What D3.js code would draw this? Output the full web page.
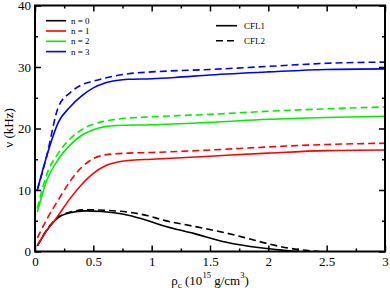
<!DOCTYPE html>
<html>
<head>
<meta charset="utf-8">
<script src="https://cdn.jsdelivr.net/npm/d3@7"></script>
<style>
	body { margin: 0; background: #fff; }
	svg { display: block; font-family: "Liberation Serif", "Times New Roman", serif; }
</style>
</head>
<body>
<div id="root"></div>
<script>
const W = 390,
	H = 292,
	M = { top: 5.5, right: 5, bottom: 40.5, left: 35 }

// series: [rho_c, nu]
const n0_cfl1 = [[0.02, 0.9], [0.1, 3.4], [0.2, 5.5], [0.3, 6.3], [0.43, 6.6], [0.57, 6.5], [0.8, 5.9], [0.97, 5.0], [1.1, 4.2], [1.36, 2.95], [1.64, 1.5], [1.93, 0.6], [2.13, 0.2], [2.25, 0.0]]
const n0_cfl2 = [[0.02, 0.9], [0.1, 3.5], [0.2, 5.6], [0.3, 6.4], [0.45, 6.8], [0.6, 6.7], [0.8, 6.4], [0.97, 5.8], [1.1, 5.1], [1.36, 4.1], [1.64, 3.0], [1.81, 2.2], [2.01, 1.2], [2.19, 0.5], [2.44, 0.0]]
const n1_cfl1 = [[0.02, 1.0], [0.1, 3.4], [0.17, 5.1], [0.2, 5.9], [0.3, 8.6], [0.4, 10.9], [0.5, 12.7], [0.6, 13.9], [0.7, 14.5], [0.8, 14.8], [1.0, 15.0], [1.5, 15.5], [2.0, 16.0], [2.5, 16.4], [3.0, 16.5]]
const n1_cfl2 = [[0.02, 2.2], [0.1, 5.2], [0.2, 8.4], [0.3, 11.4], [0.4, 13.7], [0.5, 15.1], [0.6, 15.7], [0.8, 16.0], [1.0, 16.1], [1.5, 16.5], [2.0, 17.0], [2.5, 17.4], [3.0, 17.6]]
const n2_cfl1 = [[0.02, 6.4], [0.1, 11.5], [0.2, 15.0], [0.3, 17.3], [0.4, 18.9], [0.5, 19.8], [0.6, 20.3], [0.7, 20.5], [1.0, 20.6], [1.5, 21.0], [2.0, 21.5], [2.5, 21.8], [3.0, 22.0]]
const n2_cfl2 = [[0.02, 7.0], [0.1, 12.5], [0.2, 16.0], [0.3, 18.3], [0.4, 19.8], [0.5, 20.7], [0.6, 21.2], [0.8, 21.7], [1.0, 21.9], [1.5, 22.3], [2.0, 22.8], [2.5, 23.2], [3.0, 23.5]]
const n3_cfl1 = [[0.02, 10.0], [0.1, 15.5], [0.2, 21.0], [0.3, 23.5], [0.4, 25.3], [0.5, 26.6], [0.6, 27.4], [0.7, 27.8], [0.8, 28.0], [1.0, 28.1], [1.2, 28.3], [1.5, 28.7], [2.0, 29.2], [2.5, 29.6], [3.0, 29.7]]
const n3_cfl2 = [[0.02, 10.0], [0.1, 15.5], [0.2, 23.5], [0.3, 25.8], [0.4, 27.1], [0.5, 27.7], [0.6, 28.2], [0.8, 28.9], [1.0, 29.2], [1.5, 29.6], [2.0, 30.1], [2.5, 30.6], [3.0, 30.8]]

const modeLabels = ['n = 0', 'n = 1', 'n = 2', 'n = 3']
const modeColors = ['#000000', '#ff0000', '#00ee00', '#0000ff']
const eosLabels = ['CFL1', 'CFL2']

const xTicks = [0, 0.5, 1, 1.5, 2, 2.5, 3]
const xMinor = [0.25, 0.75, 1.25, 1.75, 2.25, 2.75]
const yTicks = [0, 10, 20, 30, 40]
const yMinor = [5, 15, 25, 35]

const series = [
	{ data: n0_cfl1, mode: 0, eos: 0 }, { data: n0_cfl2, mode: 0, eos: 1 },
	{ data: n1_cfl1, mode: 1, eos: 0 }, { data: n1_cfl2, mode: 1, eos: 1 },
	{ data: n2_cfl1, mode: 2, eos: 0 }, { data: n2_cfl2, mode: 2, eos: 1 },
	{ data: n3_cfl1, mode: 3, eos: 0 }, { data: n3_cfl2, mode: 3, eos: 1 },
]
const dashes = [null, '7,4']

const svg = d3.select('#root').append('svg')
	.attr('width', W)
	.attr('height', H)

const x = d3.scaleLinear().domain([0, 3]).range([M.left, W - M.right])
const y = d3.scaleLinear().domain([0, 40]).range([H - M.bottom, M.top])

//curves
const line = d3.line()
	.x(d => x(d[0]))
	.y(d => y(d[1]))
	.curve(d3.curveMonotoneX)

svg.append('g')
	.selectAll('path')
	.data(series)
	.enter()
	.append('path')
	.attr('d', d => line(d.data))
	.attr('fill', 'none')
	.attr('stroke', d => modeColors[d.mode])
	.attr('stroke-width', 1.6)
	.attr('stroke-dasharray', d => dashes[d.eos])

// axes: ticks inside on all four sides
const plotB = H - M.bottom,
	plotL = M.left,
	plotR = W - M.right,
	plotT = M.top

function addAxis (axis, tr) {
	const g = svg.append('g')
		.attr('transform', tr)
		.call(axis)
	g.attr('font-family', null).attr('font-size', null)
	g.select('.domain').remove()
	g.selectAll('line').attr('stroke', '#000').attr('stroke-width', 1.5)
	g.selectAll('text')
		.style('font-family', '"Liberation Serif", serif')
		.style('font-size', '13px')
		.attr('fill', '#000')
	return g
}

addAxis(d3.axisBottom(x).tickValues(xTicks).tickSize(-6).tickPadding(5.5).tickFormat(d3.format('~g')), `translate(0,${plotB})`)
addAxis(d3.axisBottom(x).tickValues(xMinor).tickSize(-3).tickFormat(''), `translate(0,${plotB})`)
addAxis(d3.axisTop(x).tickValues(xTicks).tickSize(-6).tickFormat(''), `translate(0,${plotT})`)
addAxis(d3.axisTop(x).tickValues(xMinor).tickSize(-3).tickFormat(''), `translate(0,${plotT})`)
addAxis(d3.axisLeft(y).tickValues(yTicks).tickSize(-6).tickPadding(4), `translate(${plotL},0)`)
addAxis(d3.axisLeft(y).tickValues(yMinor).tickSize(-3).tickFormat(''), `translate(${plotL},0)`)
addAxis(d3.axisRight(y).tickValues(yTicks).tickSize(-6).tickFormat(''), `translate(${plotR},0)`)
addAxis(d3.axisRight(y).tickValues(yMinor).tickSize(-3).tickFormat(''), `translate(${plotR},0)`)

svg.append('rect')
	.attr('x', plotL)
	.attr('y', plotT)
	.attr('width', plotR - plotL)
	.attr('height', plotB - plotT)
	.attr('fill', 'none')
	.attr('stroke', '#000')
	.attr('stroke-width', 2)

// axis labels
const xLab = svg.append('text')
	.attr('x', 210)
	.attr('y', 285)
	.attr('text-anchor', 'middle')
	.attr('font-size', 13)
xLab.append('tspan').text('ρ')
xLab.append('tspan').attr('font-size', 9).attr('dy', 3).text('c')
xLab.append('tspan').attr('dy', -3).text(' (10')
xLab.append('tspan').attr('font-size', 8.5).attr('dy', -7).text('15')
xLab.append('tspan').attr('dy', 7).text(' g/cm')
xLab.append('tspan').attr('font-size', 8.5).attr('dy', -7).text('3')
xLab.append('tspan').attr('dy', 7).text(')')

svg.append('text')
	.attr('transform', 'translate(13,128) rotate(-90)')
	.attr('text-anchor', 'middle')
	.attr('font-size', 13)
	.text('ν (kHz)')

// legend: modes
const legModes = svg.append('g')
	.selectAll('g')
	.data(modeLabels)
	.enter()
	.append('g')
	.attr('transform', (d, i) => `translate(0,${20.7 + i * 10.3})`)

legModes.append('line')
	.attr('x1', 46)
	.attr('x2', 66)
	.attr('stroke', (d, i) => modeColors[i])
	.attr('stroke-width', 1.6)

legModes.append('text')
	.attr('x', 71)
	.attr('dy', '0.33em')
	.attr('font-size', 9)
	.text(d => d)

// legend: equations of state
const legEos = svg.append('g')
	.selectAll('g')
	.data(eosLabels)
	.enter()
	.append('g')
	.attr('transform', (d, i) => `translate(0,${25.7 + i * 15})`)

legEos.append('line')
	.attr('x1', 216)
	.attr('x2', 237)
	.attr('stroke', '#000')
	.attr('stroke-width', 1.6)
	.attr('stroke-dasharray', (d, i) => dashes[i])

legEos.append('text')
	.attr('x', 244)
	.attr('dy', '0.33em')
	.attr('font-size', 9)
	.text(d => d)
</script>
</body>
</html>
